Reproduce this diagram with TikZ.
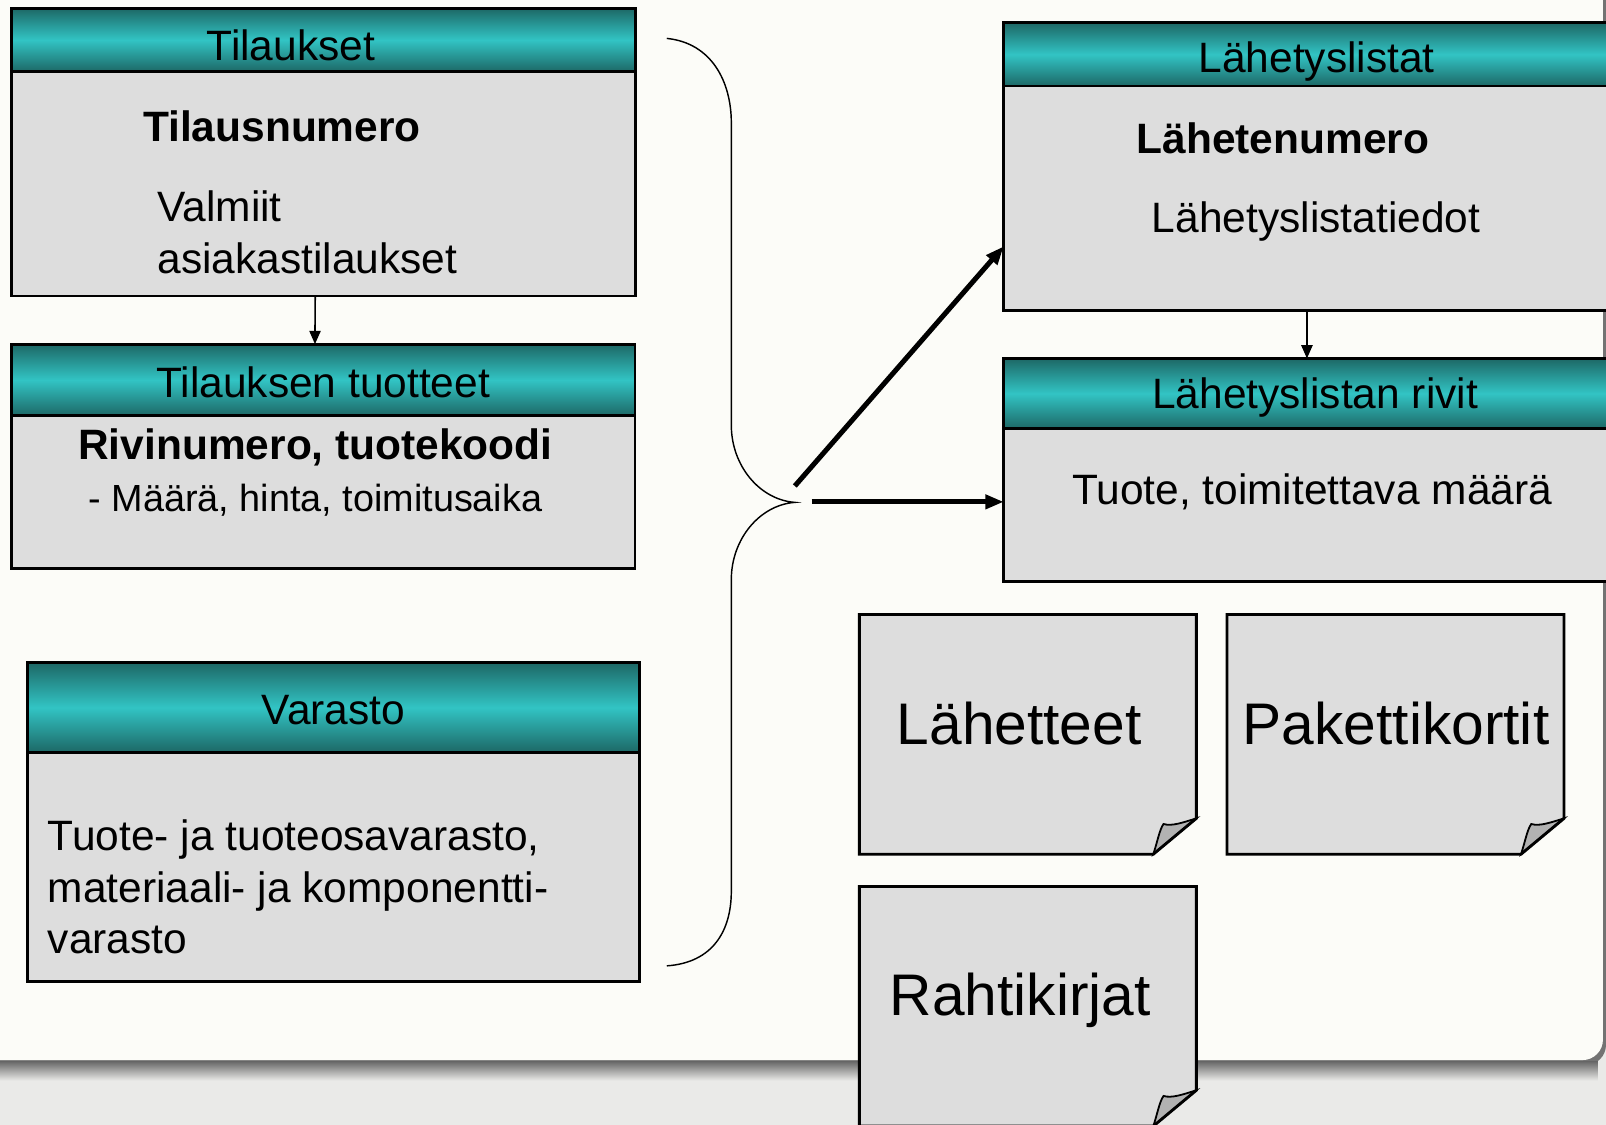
\documentclass[tikz,border=0pt]{standalone}
\usepackage{fontspec}
\setmainfont{Liberation Sans}
\usetikzlibrary{arrows.meta,positioning}
\definecolor{headdark}{RGB}{29,104,102}
\definecolor{headlight}{RGB}{50,196,196}
\definecolor{bodygray}{RGB}{221,221,221}
\definecolor{flapgray}{RGB}{178,178,178}
\definecolor{slidewhite}{RGB}{252,252,248}
\definecolor{stripgray}{RGB}{234,234,232}

\tikzset{
  headbar/.style={draw=black, line width=0.8pt, top color=headdark, bottom color=headdark,
    middle color=headlight, inner sep=0pt, outer sep=0pt, anchor=north west},
  bodybox/.style={draw=black, line width=0.8pt, fill=bodygray, inner sep=0pt, outer sep=0pt},
  headtext/.style={font=\fontsize{11.8}{14.2}\selectfont, inner sep=0pt, anchor=base},
  plaintext/.style={font=\fontsize{11.8}{14.2}\selectfont, inner sep=0pt, align=left},
  keytext/.style={font=\fontsize{11.8}{14.2}\selectfont\bfseries, inner sep=0pt},
  doctext/.style={font=\fontsize{16.3}{19}\selectfont, inner sep=0pt, anchor=base},
  thinarrow/.style={-{Triangle[length=1.3mm,width=1.1mm]}, line width=0.45pt},
  thickarrow/.style={-{Triangle[length=1.8mm,width=1.35mm]}, line width=1.4pt},
  bracestyle/.style={line width=0.4pt},
  docpage/.pic={
    \fill[bodygray] (0,0) -- (3.29,0) -- (3.29,1.99) -- (2.87,2.34) -- (0,2.34) -- cycle;
    \filldraw[fill=flapgray, draw=black, line width=0.5pt] (2.87,2.34)
      .. controls (2.91,2.22) and (2.93,2.10) .. (2.97,2.045)
      .. controls (3.05,2.07) and (3.16,2.03) .. (3.29,1.99) -- cycle;
    \draw[line width=0.8pt] (0,0) -- (3.29,0) -- (3.29,1.99) -- (2.87,2.34) -- (0,2.34) -- cycle;
  }
}

\begin{document}
\begin{tikzpicture}[x=1cm, y=-1cm]
  \useasboundingbox (0,0) rectangle (15.68,10.98);
  \clip (0,0) rectangle (15.68,10.98);
  % slide background
  \fill[stripgray] (0,0) rectangle (15.68,10.98);
  \fill[black!55, rounded corners=0.2cm] (-0.3,-0.3) rectangle (15.68,10.40);
  \shade[top color=black!60, bottom color=stripgray] (0,10.36) rectangle (15.60,10.55);
  \fill[slidewhite, rounded corners=0.2cm] (-0.3,-0.3) rectangle (15.65,10.35);

  % left tables
  \node[headbar, minimum width=6.095cm, minimum height=0.62cm] (tilauksetH) at (0.11,0.08) {};
  \node[bodybox, minimum width=6.095cm, minimum height=2.19cm, below=0pt of tilauksetH] (tilaukset) {};
  \node[headtext] (tilauksetT) at (2.84,0.595) {Tilaukset};
  \node[keytext, anchor=base west] (tilausnro) at (1.39,1.38) {Tilausnumero};
  \node[plaintext, anchor=north west] (valmiit) at (1.53,1.86) {Valmiit\\asiakastilaukset};

  \node[headbar, minimum width=6.09cm, minimum height=0.70cm] (tuotteetH) at (0.11,3.36) {};
  \node[bodybox, minimum width=6.09cm, minimum height=1.49cm, below=0pt of tuotteetH] (tuotteet) {};
  \node[headtext] (tuotteetT) at (3.155,3.88) {Tilauksen tuotteet};
  \node[keytext, anchor=base] (rivinro) at (3.08,4.49) {Rivinumero, tuotekoodi};
  \node[font=\fontsize{10.5}{12}\selectfont, inner sep=0pt, anchor=base] (maara) at (3.08,4.99) {- Määrä, hinta, toimitusaika};

  \node[headbar, minimum width=5.98cm, minimum height=0.875cm] (varastoH) at (0.267,6.47) {};
  \node[bodybox, minimum width=5.98cm, minimum height=2.235cm, below=0pt of varastoH] (varasto) {};
  \node[headtext] (varastoT) at (3.257,7.07) {Varasto};
  \node[plaintext, anchor=north west] (varastoTxt) at (0.46,8.0) {Tuote- ja tuoteosavarasto,\\materiaali- ja komponentti-\\varasto};

  \draw[thinarrow] ([xshift=-0.08cm]tilaukset.south) -- ([xshift=-0.08cm]tuotteetH.north);

  % brace
  \coordinate (bracetip) at (7.76,4.905);
  \draw[bracestyle] (6.51,0.375) .. controls (6.95,0.42) and (7.14,0.80) .. (7.14,1.20)
    -- (7.14,4.15) .. controls (7.14,4.55) and (7.42,4.88) .. (bracetip)
    .. controls (7.42,4.93) and (7.14,5.26) .. (7.14,5.66)
    -- (7.14,8.70) .. controls (7.14,9.10) and (6.95,9.40) .. (6.51,9.43);

  % right tables
  \node[headbar, minimum width=6.10cm, minimum height=0.616cm] (lahetysH) at (9.80,0.224) {};
  \node[bodybox, minimum width=6.10cm, minimum height=2.19cm, below=0pt of lahetysH] (lahetys) {};
  \node[headtext] (lahetysT) at (12.855,0.71) {Lähetyslistat};
  \node[keytext, anchor=base west] (lahetenro) at (11.09,1.495) {Lähetenumero};
  \node[plaintext, anchor=base west] (tiedot) at (11.24,2.27) {Lähetyslistatiedot};

  \node[headbar, minimum width=6.10cm, minimum height=0.685cm] (rivitH) at (9.80,3.50) {};
  \node[bodybox, minimum width=6.10cm, minimum height=1.495cm, below=0pt of rivitH] (rivit) {};
  \node[headtext] (rivitT) at (12.84,3.99) {Lähetyslistan rivit};
  \node[headtext] (rivitTxt) at (12.81,4.925) {Tuote, toimitettava määrä};

  \draw[thinarrow] ([xshift=-0.09cm]lahetys.south) -- ([xshift=-0.09cm]rivitH.north);

  % arrows from the brace
  \coordinate (upstart) at (7.76,4.745);
  \coordinate (rightstart) at (7.925,4.90);
  \draw[thickarrow] (upstart) -- ([yshift=-0.47cm]lahetys.west);
  \draw[thickarrow] (rightstart) -- (rightstart -| rivit.west);

  % documents
  \pic at (8.39,6.00) {docpage};
  \pic at (11.98,6.00) {docpage};
  \pic at (8.39,8.655) {docpage};
  \node[doctext] (lahetteet) at (9.95,7.27) {Lähetteet};
  \node[doctext] (paketti) at (13.63,7.27) {Pakettikortit};
  \node[doctext] (rahti) at (9.96,9.91) {Rahtikirjat};
\end{tikzpicture}
\end{document}
